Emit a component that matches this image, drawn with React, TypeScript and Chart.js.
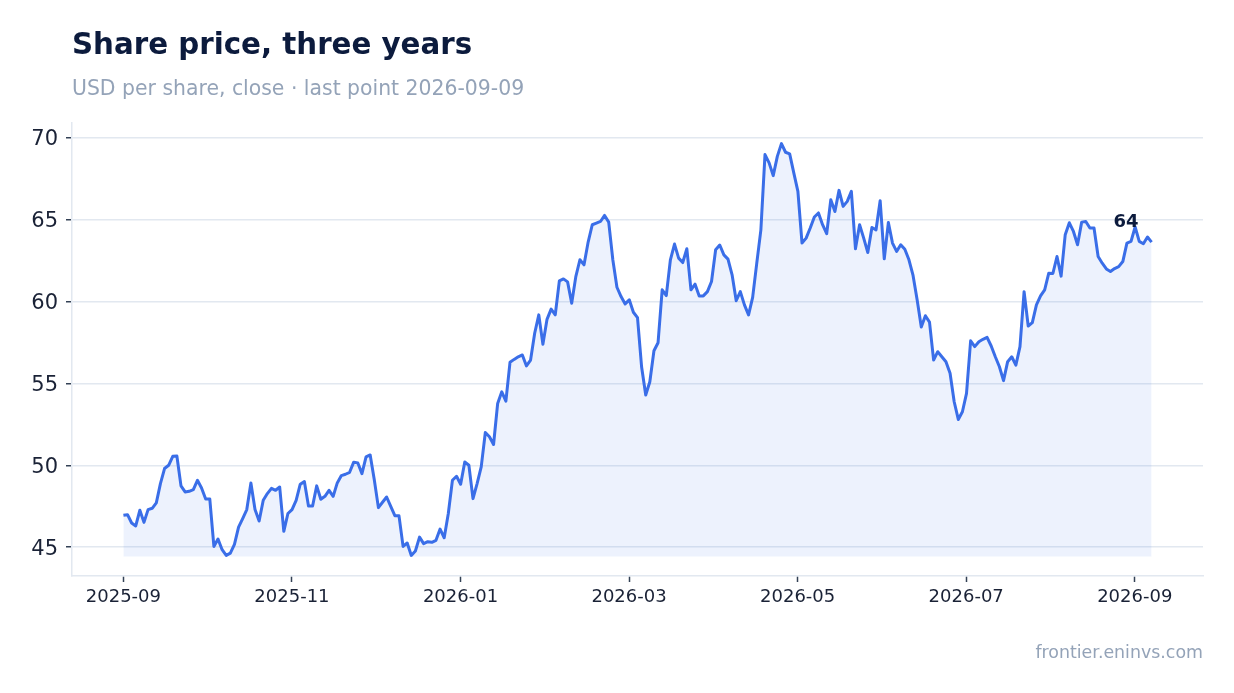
import React from "react"
import { Chart, registerables } from "chart.js"

Chart.register(...registerables)

const FONT = "'DejaVu Sans', sans-serif"

const TITLE = "Share price, three years"
const SUBTITLE = "USD per share, close · last point 2026-09-09"
const SOURCE = "frontier.eninvs.com"

// where the first and last closes sit on the time axis; the points in between are evenly spaced
const FIRST_DATE = "2025-09-01"
const LAST_DATE = "2026-09-07"

const X_TICKS = ["2025-09-01", "2025-11-01", "2026-01-01", "2026-03-01", "2026-05-01", "2026-07-01", "2026-09-01"]
const Y_TICKS = [45, 50, 55, 60, 65, 70]

const PRICE = [
  46.94, 46.98, 46.47, 46.29, 47.25, 46.51, 47.29, 47.37, 47.7, 48.88,
  49.8, 50.0, 50.55, 50.57, 48.74, 48.37, 48.41, 48.51, 49.08, 48.61,
  47.94, 47.94, 45.04, 45.49, 44.84, 44.49, 44.63, 45.17, 46.22, 46.74,
  47.29, 48.92, 47.29, 46.59, 47.86, 48.27, 48.59, 48.47, 48.67, 45.96,
  47.05, 47.29, 47.86, 48.84, 49.0, 47.51, 47.51, 48.74, 47.92, 48.1,
  48.47, 48.1, 48.92, 49.37, 49.45, 49.57, 50.19, 50.14, 49.49, 50.51,
  50.63, 49.12, 47.41, 47.74, 48.06, 47.49, 46.92, 46.92, 45.04, 45.25,
  44.49, 44.76, 45.61, 45.21, 45.33, 45.29, 45.41, 46.1, 45.57, 47.05,
  49.08, 49.33, 48.84, 50.2, 50.0, 47.96, 48.88, 49.9, 52.0, 51.74,
  51.27, 53.78, 54.49, 53.92, 56.29, 56.47, 56.63, 56.74, 56.07, 56.43,
  58.07, 59.19, 57.39, 58.92, 59.54, 59.19, 61.27, 61.39, 61.21, 59.9,
  61.53, 62.56, 62.25, 63.64, 64.7, 64.8, 64.9, 65.27, 64.86, 62.56,
  60.88, 60.31, 59.86, 60.11, 59.35, 59.02, 56.0, 54.29, 55.1, 57.0,
  57.49, 60.72, 60.37, 62.56, 63.52, 62.66, 62.39, 63.23, 60.72, 61.07,
  60.35, 60.35, 60.61, 61.23, 63.17, 63.46, 62.86, 62.6, 61.64, 60.06,
  60.61, 59.8, 59.19, 60.26, 62.35, 64.39, 68.99, 68.48, 67.7, 68.88,
  69.66, 69.13, 69.03, 67.87, 66.74, 63.58, 63.88, 64.5, 65.17, 65.42,
  64.7, 64.15, 66.23, 65.51, 66.8, 65.82, 66.13, 66.74, 63.23, 64.7,
  63.88, 63.0, 64.53, 64.39, 66.17, 62.62, 64.84, 63.58, 63.07, 63.48,
  63.2, 62.56, 61.6, 60.1, 58.45, 59.14, 58.75, 56.43, 56.94, 56.63,
  56.33, 55.62, 53.88, 52.8, 53.27, 54.39, 57.61, 57.25, 57.55, 57.7,
  57.82, 57.29, 56.63, 56.02, 55.17, 56.33, 56.63, 56.12, 57.25, 60.61,
  58.51, 58.72, 59.8, 60.35, 60.72, 61.74, 61.72, 62.76, 61.56, 64.09,
  64.82, 64.29, 63.48, 64.86, 64.9, 64.5, 64.5, 62.76, 62.35, 62.0,
  61.84, 62.02, 62.14, 62.45, 63.58, 63.68, 64.56, 63.68, 63.54, 63.95,
  63.64,
]

// the time axis runs in months (every month the same width), counted from 2025-01
const toMonths = (s: string) => {
  const [y, m, d] = s.split("-").map(Number)
  const daysInMonth = new Date(Date.UTC(y, m, 0)).getUTCDate()
  return (y - 2025) * 12 + (m - 1) + (d - 1) / daysInMonth
}

const fmtMonth = (v: number) => {
  const idx = Math.round(v)
  const y = 2025 + Math.floor(idx / 12)
  const m = (idx % 12) + 1
  return `${y}-${String(m).padStart(2, "0")}`
}

const textPlugin = {
  id: "texts",
  afterDraw(chart: Chart) {
    const ctx = chart.ctx
    ctx.save()
    ctx.textBaseline = "alphabetic"
    ctx.textAlign = "left"
    ctx.fillStyle = "#0c1b3d"
    ctx.font = `bold 29.3px ${FONT}`
    ctx.fillText(TITLE, 72, 53.5)
    ctx.fillStyle = "#94a3b8"
    ctx.font = `20.4px ${FONT}`
    ctx.fillText(SUBTITLE, 72, 94.5)
    ctx.textAlign = "right"
    ctx.font = `17.4px ${FONT}`
    ctx.fillText(SOURCE, 1203, 658)

    // label the last close
    const meta = chart.getDatasetMeta(0)
    const last = meta.data[meta.data.length - 1]
    if (last) {
      ctx.fillStyle = "#0c1b3d"
      ctx.font = `bold 18px ${FONT}`
      ctx.textAlign = "right"
      ctx.fillText(String(Math.round(PRICE[PRICE.length - 1])), last.x - 13, last.y - 15)
    }
    ctx.restore()
  },
}

const PriceChart = () => {
  const chartRef = React.useRef<HTMLCanvasElement>(null)

  React.useEffect(() => {
    if (chartRef.current == null) {
      return
    }

    const t0 = toMonths(FIRST_DATE)
    const t1 = toMonths(LAST_DATE)
    const step = (t1 - t0) / (PRICE.length - 1)
    const points = PRICE.map((v, i) => ({ x: t0 + i * step, y: v }))

    const lo = Math.min(...PRICE)
    const hi = Math.max(...PRICE)
    const yPad = (hi - lo) * 0.05
    const xPad = (t1 - t0) * 0.05

    const chart = new Chart(chartRef.current, {
      type: "line",
      data: {
        datasets: [
          {
            data: points,
            borderColor: "#3a6ee8",
            borderWidth: 3,
            backgroundColor: "rgba(58, 110, 232, 0.09)",
            fill: { value: lo - 0.06 },
            pointRadius: 0,
            tension: 0,
            borderJoinStyle: "round",
          },
        ],
      },
      options: {
        animation: false,
        responsive: true,
        maintainAspectRatio: false,
        layout: { padding: { top: 123, right: 31, bottom: 0, left: 0 } },
        plugins: {
          legend: { display: false },
          tooltip: { enabled: false },
        },
        scales: {
          x: {
            type: "linear",
            min: t0 - xPad,
            max: t1 + xPad,
            afterBuildTicks: (scale: any) => {
              scale.ticks = X_TICKS.map((d) => ({ value: toMonths(d) }))
            },
            afterFit: (scale: any) => {
              scale.height = 117
            },
            grid: {
              drawOnChartArea: false,
              drawTicks: true,
              tickLength: 6,
              tickColor: "#334155",
              tickWidth: 1.5,
            },
            border: { color: "#e2e8f0", width: 1.5 },
            ticks: {
              callback: (v: any) => fmtMonth(Number(v)),
              color: "#1a2236",
              font: { family: FONT, size: 18 },
              padding: 5,
              maxRotation: 0,
              autoSkip: false,
            },
          },
          y: {
            min: lo - yPad,
            max: hi + yPad,
            afterBuildTicks: (scale: any) => {
              scale.ticks = Y_TICKS.map((v) => ({ value: v }))
            },
            afterFit: (scale: any) => {
              scale.width = 72
            },
            grid: {
              color: "#e2e8f0",
              lineWidth: 1.5,
              tickLength: 6,
              tickColor: "#334155",
              tickWidth: 1.5,
            },
            border: { color: "#e2e8f0", width: 1.5 },
            ticks: {
              color: "#1a2236",
              font: { family: FONT, size: 21 },
              padding: 8,
              labelOffset: 2,
            },
          },
        },
      },
      plugins: [textPlugin],
    })

    return () => {
      chart.destroy()
    }
  }, [])

  return (
    <div style={{ position: "fixed", left: 0, top: 0, width: 1234, height: 693, background: "#ffffff" }}>
      <canvas ref={chartRef} />
    </div>
  )
}

export default function App() {
  return <PriceChart />
}
